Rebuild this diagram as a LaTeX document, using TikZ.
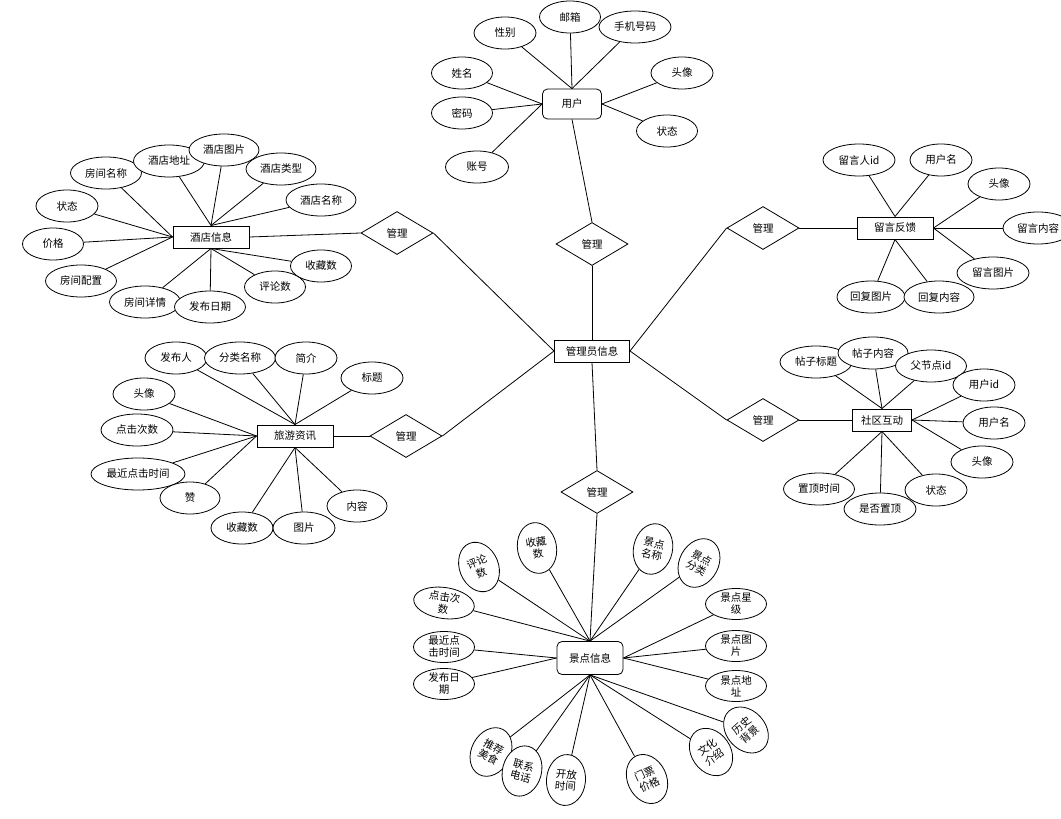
\documentclass[tikz,border=0pt]{standalone}
\usepackage{fontspec}
\newfontfamily\cjk{Noto Sans CJK SC}
\usetikzlibrary{shapes.geometric}

\tikzset{
  every node/.style={font=\cjk\fontsize{10.5}{12}\selectfont},
  attr/.style={draw, ellipse, fill=white, inner sep=0pt, minimum width=#1, minimum height=32},
  attr/.default=62,
  sattr/.style={draw, ellipse, fill=white, inner sep=0pt, align=center, minimum width=61, minimum height=31, rotate=#1},
  sattr/.default=0,
  rattr/.style={draw, ellipse, fill=white, inner sep=0pt, align=center, minimum width=39, minimum height=51, rotate=#1},
  ent/.style={draw, line width=1pt, fill=white, minimum width=#1, minimum height=22, inner sep=0pt},
  ent/.default=76,
  rel/.style={draw, diamond, fill=white, inner sep=0pt, minimum width=72, minimum height=43},
  lnk/.style={line width=0.8pt}
}

\begin{document}
\begin{tikzpicture}[x=1pt, y=-1pt, line width=0.8pt]
  \fill[white] (0,0) rectangle (1061,819);
  \useasboundingbox (0,0) rectangle (1061,819);

  % hub and relations
  \node[ent=75] (admin) at (592,351) {管理员信息};
  \node[rel] (rUser) at (592,244) {管理};
  \node[rel] (rHotel) at (397,233) {管理};
  \node[rel] (rFeed) at (763,228) {管理};
  \node[rel] (rNews) at (406,436) {管理};
  \node[rel] (rComm) at (763,420) {管理};
  \node[rel] (rSpot) at (597,492) {管理};

  % entities
  \node[draw, rounded corners=5pt, fill=white, minimum width=59, minimum height=30] (user) at (572,104) {用户};
  \node[ent] (hotel) at (211,237) {酒店信息};
  \node[ent] (feed) at (895,228) {留言反馈};
  \node[ent] (news) at (295,436) {旅游资讯};
  \node[ent=59] (comm) at (882,420) {社区互动};
  \node[draw, rounded corners=5pt, fill=white, minimum width=66, minimum height=33] (spot) at (590,658) {景点信息};

  % entity -- relation -- hub
  \draw[lnk] (user.south) -- (rUser.north);
  \draw[lnk] (rUser.south) -- (admin.north);
  \draw[lnk] (hotel.east) -- (rHotel.west);
  \draw[lnk] (rHotel.east) -- (admin.west);
  \draw[lnk] (feed.west) -- (rFeed.east);
  \draw[lnk] (rFeed.west) -- (admin.east);
  \draw[lnk] (news.east) -- (rNews.west);
  \draw[lnk] (rNews.east) -- (admin.west);
  \draw[lnk] (comm.west) -- (rComm.east);
  \draw[lnk] (rComm.west) -- (admin.east);
  \draw[lnk] (admin.south) -- (rSpot.north);
  \draw[lnk] (rSpot.south) -- (spot.north);

  % user attributes
  \foreach \n/\x/\y/\w/\t/\a in {ua/570/17/61/邮箱/north, ub/505/33/62/性别/north,
      uc/635/27/72/手机号码/north, ud/462/73/61/姓名/west, ue/462/113/61/密码/west,
      uf/477/167/63/账号/west, ug/682/73/62/头像/east, uh/667/131/61/状态/east} {
    \node[attr=\w] (\n) at (\x,\y) {\t};
    \draw[lnk] (user.\a) -- (\n);
  }

  % hotel attributes
  \foreach \n/\x/\y/\w/\t/\a in {ha/106/173/71/房间名称/west, hb/169/161/71/酒店地址/north,
      hc/224/150/70/酒店图片/north, hd/281/169/70/酒店类型/north, he/321/200/70/酒店名称/north,
      hf/67/206/62/状态/west, hg/53/244/61/价格/west, hh/81/281/71/房间配置/west,
      hi/145/302/71/房间详情/south, hj/210/307/71/发布日期/south,
      hk/275/287/61/评论数/south, hl/321/266/61/收藏数/south} {
    \node[attr=\w] (\n) at (\x,\y) {\t};
    \draw[lnk] (hotel.\a) -- (\n);
  }

  % feedback attributes
  \foreach \n/\x/\y/\w/\t/\a in {fa/859/160/72/留言人id/north, fb/941/160/62/用户名/north,
      fc/999/184/62/头像/east, fd/1038/228/70/留言内容/east, fe/993/273/72/留言图片/east,
      ff/871/297/68/回复图片/south, fg/939/297/70/回复内容/south} {
    \node[attr=\w] (\n) at (\x,\y) {\t};
    \draw[lnk] (feed.\a) -- (\n);
  }

  % news attributes
  \foreach \n/\x/\y/\w/\t/\a in {na/176/358/62/发布人/north, nb/240/358/71/分类名称/north,
      nc/306/358/62/简介/north, nd/372/378/62/标题/north, ne/144/394/62/头像/west,
      nf/137/430/72/点击次数/west, ng/138/474/94/最近点击时间/west, nh/190/498/60/赞/west,
      ni/242/528/62/收藏数/south, nj/304/528/62/图片/south, nk/357/506/60/内容/south} {
    \node[attr=\w] (\n) at (\x,\y) {\t};
    \draw[lnk] (news.\a) -- (\n);
  }

  % community attributes
  \foreach \n/\x/\y/\w/\t/\a in {ca/816/362/72/帖子标题/north, cb/873/353/70/帖子内容/north,
      cc/931/366/71/父节点id/north, cd/984/385/62/用户id/east, ce/994/423/62/用户名/east,
      cf/982/462/62/头像/east, cg/936/490/62/状态/south, ch/819/489/71/置顶时间/south,
      ci/880/509/72/是否置顶/south} {
    \node[attr=\w] (\n) at (\x,\y) {\t};
    \draw[lnk] (comm.\a) -- (\n);
  }

  % spot attributes, flat ones
  \foreach \n/\x/\y/\r/\t/\a in {sa/444/603/-8/{点击次\\数}/north, sb/444/647/0/{最近点\\击时间}/west,
      sc/444/684/0/{发布日\\期}/west, sd/736/604/0/{景点星\\级}/east,
      se/736/646/0/{景点图\\片}/east, sf/736/686/0/{景点地\\址}/east} {
    \node[sattr=\r] (\n) at (\x,\y) {\t};
    \draw[lnk] (spot.\a) -- (\n);
  }
  % spot attributes, tilted ones
  \foreach \n/\x/\y/\r/\t/\a in {sg/479/567/22/{评论\\数}/north, sh/537/548/10/{收藏\\数}/north,
      si/653/549/-12/{景点\\名称}/north, sj/699/563/-28/{景点\\分类}/north,
      sk/491/752/-28/{推荐\\美食}/south, sl/522/771/-15/{联系\\电话}/south,
      sm/566/780/-5/{开放\\时间}/south, sn/647/779/25/{门票\\价格}/south,
      so/711/752/35/{文化\\介绍}/south, sp/746/730/42/{历史\\背景}/south} {
    \node[rattr=\r] (\n) at (\x,\y) {\t};
    \draw[lnk] (spot.\a) -- (\n);
  }
\end{tikzpicture}
\end{document}
